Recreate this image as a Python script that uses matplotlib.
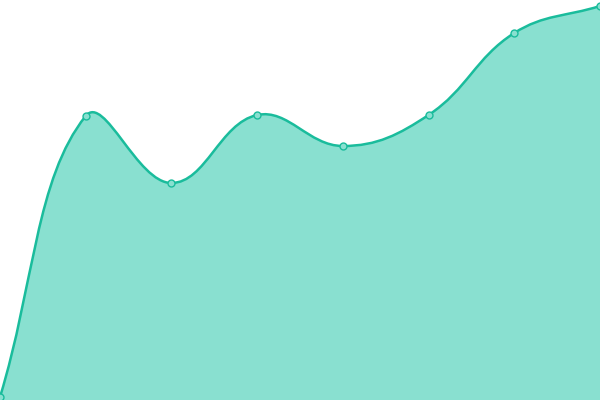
import numpy as np
import matplotlib
matplotlib.use("Agg")
import matplotlib.pyplot as plt
from matplotlib.path import Path
from matplotlib.patches import PathPatch

# values (chart height = 400 units)
labels = ["1", "2", "3", "4", "5", "6", "7", "8"]
values = [3, 284, 217, 285, 254, 285, 367, 394]

line_color = "#1abc9c"
fill_color = "#89e0d0"

W, H = 600, 400
n = len(values)
xs = np.array([i * W / (n - 1) for i in range(n)])
ys = np.array(values, dtype=float)


def spline_ctrl(p0, p1, p2, t=0.4):
    # chart.js style spline control points
    d01 = np.hypot(*(p1 - p0))
    d12 = np.hypot(*(p2 - p1))
    s = d01 + d12
    s01 = d01 / s if s else 0
    s12 = d12 / s if s else 0
    prev_cp = p1 - t * s01 * (p2 - p0)
    next_cp = p1 + t * s12 * (p2 - p0)
    return prev_cp, next_cp


pts = [np.array([x, y]) for x, y in zip(xs, ys)]
cps = []
for i in range(n):
    p0 = pts[i - 1] if i > 0 else pts[i]
    p2 = pts[i + 1] if i < n - 1 else pts[i]
    a, b = spline_ctrl(p0, pts[i], p2)
    a[1] = np.clip(a[1], 0, H)
    b[1] = np.clip(b[1], 0, H)
    cps.append((a, b))

verts = [tuple(pts[0])]
codes = [Path.MOVETO]
for i in range(n - 1):
    verts += [tuple(cps[i][1]), tuple(cps[i + 1][0]), tuple(pts[i + 1])]
    codes += [Path.CURVE4] * 3

fig = plt.figure(figsize=(6, 4), dpi=100)
ax = fig.add_axes([0, 0, 1, 1])
ax.set_xlim(0, W)
ax.set_ylim(0, H)
ax.axis("off")

fill_verts = verts + [(W, 0), (0, 0), verts[0]]
fill_codes = codes + [Path.LINETO, Path.LINETO, Path.CLOSEPOLY]
ax.add_patch(PathPatch(Path(fill_verts, fill_codes), facecolor=fill_color,
                       edgecolor="none"))
ax.add_patch(PathPatch(Path(verts, codes), facecolor="none",
                       edgecolor=line_color, lw=1.8, clip_on=False))
ax.plot(xs, ys, "o", ms=5, mfc=fill_color, mec=line_color, mew=1,
        clip_on=False)

fig.savefig("out.png", dpi=100)
